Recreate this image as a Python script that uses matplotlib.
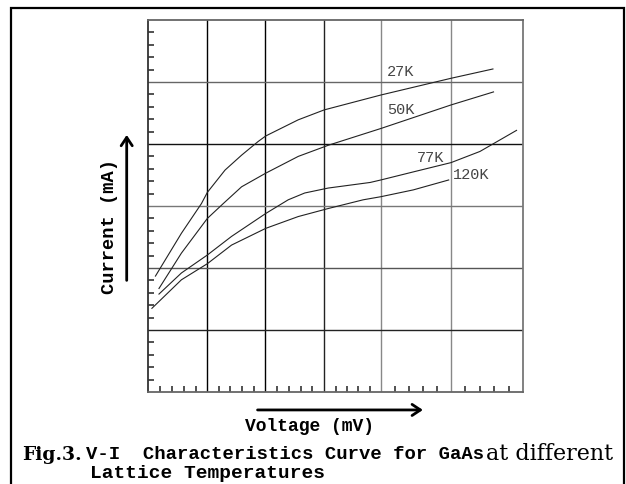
import matplotlib.pyplot as plt
import matplotlib.patches as patches

# curves (voltage, current in grid units)
v27 = [0.12, 0.56, 0.90, 1.0, 1.30, 1.58, 1.86, 1.99, 2.54, 2.98, 3.94, 5.13, 5.84]
i27 = [1.87, 2.56, 3.04, 3.22, 3.58, 3.82, 4.04, 4.13, 4.39, 4.55, 4.79, 5.06, 5.21]
v50 = [0.18, 0.56, 1.0, 1.27, 1.58, 1.99, 2.54, 3.05, 3.94, 5.13, 5.85]
i50 = [1.67, 2.24, 2.80, 3.04, 3.31, 3.53, 3.80, 3.98, 4.25, 4.63, 4.84]
v77 = [0.18, 0.56, 1.0, 1.41, 1.99, 2.37, 2.65, 3.05, 3.76, 3.94, 4.49, 5.13, 5.62, 6.24]
i77 = [1.58, 1.92, 2.21, 2.51, 2.88, 3.10, 3.21, 3.29, 3.38, 3.42, 3.55, 3.70, 3.88, 4.22]
v120 = [0.06, 0.56, 1.0, 1.41, 1.99, 2.54, 3.05, 3.64, 3.94, 4.49, 5.09]
i120 = [1.35, 1.81, 2.07, 2.37, 2.64, 2.83, 2.96, 3.10, 3.15, 3.26, 3.42]
names = ['27K', '50K', '77K', '120K']
label_x = [4.04, 4.04, 4.55, 5.17]
label_y = [5.16, 4.55, 3.77, 3.50]

xgrid = [0, 1.0, 1.98, 2.98, 3.94, 5.13, 6.35]
xgrid_col = ['k', 'k', 'k', '#222', '#888', '#888', '#777']
ygrid = [0, 1, 2, 3, 4, 5, 6]
ygrid_col = ['k', '#222', '#555', '#777', '#111', '#666', '#666']

mono = 'Liberation Mono'

fig = plt.figure(figsize=(6.26, 4.84), dpi=100)
ax = fig.add_axes([0.237, 0.190, 0.5985, 0.7687])
ax.set_xlim(xgrid[0], xgrid[-1])
ax.set_ylim(ygrid[0], ygrid[-1])

for g, c in zip(xgrid[1:-1], xgrid_col[1:-1]):
    ax.axvline(g, color=c, lw=1.0, zorder=1)
for g, c in zip(ygrid[1:-1], ygrid_col[1:-1]):
    ax.axhline(g, color=c, lw=1.0, zorder=1)

for xs, ys in [(v27, i27), (v50, i50), (v77, i77), (v120, i120)]:
    ax.plot(xs, ys, color='#222', lw=0.8, zorder=3)
for n, lx, ly in zip(names, label_x, label_y):
    ax.text(lx, ly, n, family=mono, fontsize=11, color='#444', va='center', ha='left')

# minor ticks, four per cell, pointing inward
xm = []
for a, b in zip(xgrid[:-1], xgrid[1:]):
    xm += [a + (b - a) * f for f in (0.2, 0.4, 0.6, 0.8)]
ym = []
for a, b in zip(ygrid[:-1], ygrid[1:]):
    ym += [a + (b - a) * f for f in (0.2, 0.4, 0.6, 0.8)]
ax.set_xticks([])
ax.set_yticks([])
ax.set_xticks(xm, minor=True)
ax.set_yticks(ym, minor=True)
ax.tick_params(which='minor', direction='in', length=4.5, width=1.2, colors='#333',
               labelbottom=False, labelleft=False)
ax.spines['left'].set_color('#333')
ax.spines['bottom'].set_color('#666')
ax.spines['top'].set_color('#666')
ax.spines['right'].set_color('#777')
for s in ax.spines.values():
    s.set_linewidth(1.3)

# axis labels with arrows
fig.text(0.1757, 0.533, 'Current (mA)', rotation=90, family=mono, weight='bold',
         fontsize=13.5, ha='center', va='center')
fig.add_artist(patches.FancyArrowPatch((0.2024, 0.415), (0.2024, 0.727), transform=fig.transFigure,
                                       arrowstyle='->,head_length=6,head_width=4', lw=2, color='k'))
fig.text(0.391, 0.118, 'Voltage (mV)', family=mono, weight='bold', fontsize=13,
         ha='left', va='center')
fig.add_artist(patches.FancyArrowPatch((0.407, 0.153), (0.680, 0.153), transform=fig.transFigure,
                                       arrowstyle='->,head_length=6,head_width=4', lw=2, color='k'))

# caption
fig.text(0.0347, 0.060, 'Fig.3.', family='DejaVu Serif', weight='bold', fontsize=13.5,
         ha='left', va='center')
fig.text(0.137, 0.060, 'V-I  Characteristics Curve for GaAs', family=mono, weight='bold',
         fontsize=13.6, ha='left', va='center')
fig.text(0.776, 0.062, 'at different', family='DejaVu Serif', fontsize=16,
         ha='left', va='center')
fig.text(0.1438, 0.0227, 'Lattice Temperatures', family=mono, weight='bold', fontsize=14,
         ha='left', va='center')

# frame around the whole figure
fig.add_artist(patches.Rectangle((0.0176, -0.02), 0.979, 1.0035, transform=fig.transFigure,
                                 fill=False, lw=1.6, edgecolor='k'))

plt.savefig('out.png', dpi=100)
